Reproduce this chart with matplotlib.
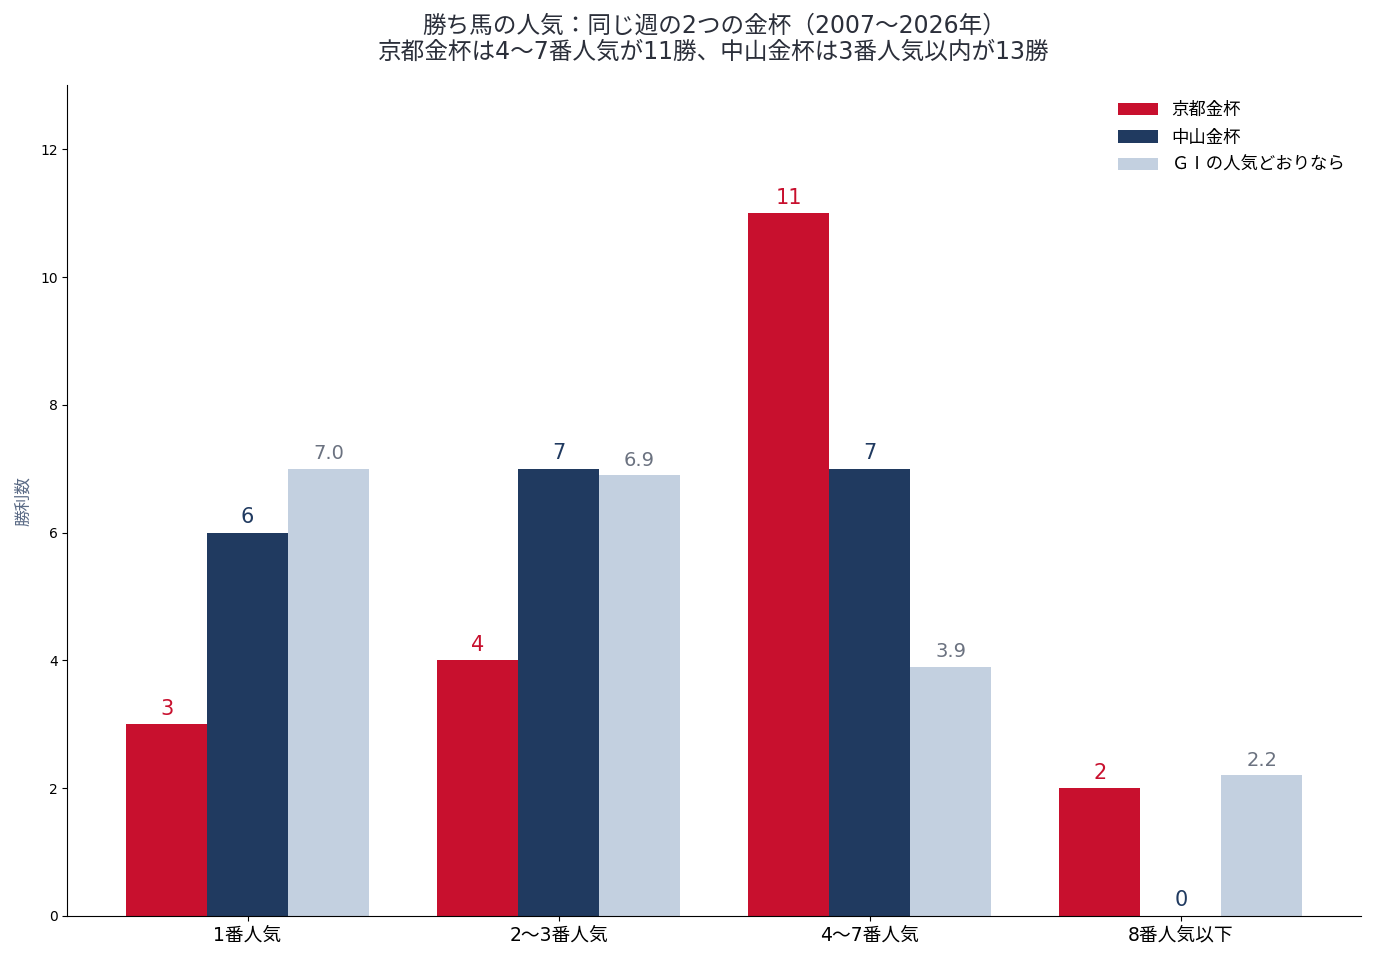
import matplotlib.pyplot as plt
import numpy as np

plt.rcParams['font.family'] = ['DejaVu Sans', 'Noto Sans CJK JP']

# data
categories = ['1番人気', '2〜3番人気', '4〜7番人気', '8番人気以下']
kyoto = [3, 4, 11, 2]
nakayama = [6, 7, 7, 0]
g1_expected = [7.0, 6.9, 3.9, 2.2]
series_names = ['京都金杯', '中山金杯', 'ＧⅠの人気どおりなら']

red = '#C8102E'
navy = '#203A60'
light = '#C3D0E0'
gray_text = '#6B7280'

x = np.arange(len(categories))
w = 0.26

fig, ax = plt.subplots(figsize=(13.76, 9.6), dpi=100)
b1 = ax.bar(x - w, kyoto, w, color=red, label=series_names[0])
b2 = ax.bar(x, nakayama, w, color=navy, label=series_names[1])
b3 = ax.bar(x + w, g1_expected, w, color=light, label=series_names[2])

ax.bar_label(b1, labels=[str(v) for v in kyoto], padding=4, fontsize=15, color=red)
ax.bar_label(b2, labels=[str(v) for v in nakayama], padding=4, fontsize=15, color=navy)
ax.bar_label(b3, labels=[f'{v:.1f}' for v in g1_expected], padding=4, fontsize=14, color=gray_text)

ax.set_ylim(0, 13)
ax.set_xticks(x)
ax.set_xticklabels(categories, fontsize=13.5)
ax.tick_params(axis='y', labelsize=10)
ax.set_ylabel('勝利数', fontsize=12, color='#5A6A85', labelpad=6)
ax.spines['top'].set_visible(False)
ax.spines['right'].set_visible(False)

ax.set_title('勝ち馬の人気：同じ週の2つの金杯（2007〜2026年）\n京都金杯は4〜7番人気が11勝、中山金杯は3番人気以内が13勝',
             fontsize=17, color='#2B2F3A', pad=19, linespacing=1.12)
leg = ax.legend(loc='upper right', frameon=False, fontsize=12.5,
                handlelength=2.3, labelspacing=0.55)
for t in leg.get_texts():
    t.set_family(['Noto Sans CJK JP'])

plt.subplots_adjust(left=0.049, right=0.989, top=0.911, bottom=0.046)
plt.savefig('out.png')
